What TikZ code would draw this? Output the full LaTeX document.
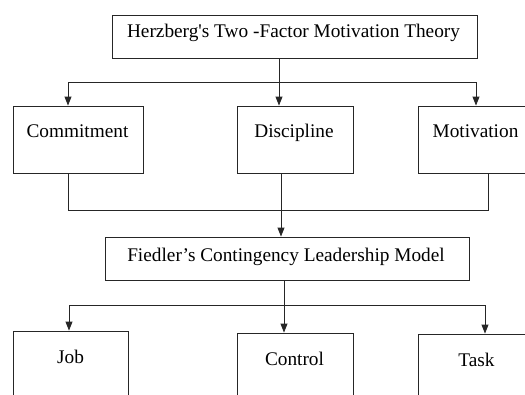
\documentclass[tikz,border=0pt]{standalone}
\usepackage{fontspec}
\setmainfont{Liberation Serif}[Ligatures=TeXOff]
\usetikzlibrary{arrows.meta}
\begin{document}
\begin{tikzpicture}[x=1pt,y=-1pt,
  box/.style={draw=black!85, line width=0.9pt, rectangle, inner sep=0pt},
  lbl/.style={anchor=base, inner sep=0pt, font=\fontsize{19.3}{22}\selectfont},
  conn/.style={draw=black!85, line width=0.9pt},
  arr/.style={conn, -{Triangle[width=7pt,length=9pt]}}]
\useasboundingbox (0,0) rectangle (525,394);
\clip (0,0) rectangle (525,394);
% boxes
\node[box, minimum width=365pt, minimum height=43pt] (top) at (294.5,36.5) {};
\node[box, minimum width=130pt, minimum height=67pt] (comm) at (78,139.5) {};
\node[box, minimum width=116pt, minimum height=67pt] (disc) at (295,139.5) {};
\node[box, minimum width=122pt, minimum height=67pt] (motv) at (479,139.5) {};
\node[box, minimum width=364pt, minimum height=43pt] (fied) at (287,258.5) {};
\node[box, minimum width=115pt, minimum height=89pt] (job) at (70.5,375.5) {};
\node[box, minimum width=116pt, minimum height=87pt] (ctrl) at (295,376.5) {};
\node[box, minimum width=122pt, minimum height=86pt] (task) at (479,377) {};
% labels
\node[lbl] (topt) at (293.5,37.3) {Herzberg's Two -Factor Motivation Theory};
\node[lbl] (commt) at (77.5,137) {Commitment};
\node[lbl] (disct) at (294,137) {Discipline};
\node[lbl] (motvt) at (475.5,137) {Motivation};
\node[lbl] (fiedt) at (286,261) {Fiedler’s Contingency Leadership Model};
\node[lbl] (jobt) at (70.5,363) {Job};
\node[lbl] (ctrlt) at (294.5,365) {Control};
\node[lbl] (taskt) at (476.5,366.5) {Task};
% connectors
\coordinate (h1) at (279,82);
\coordinate (h2) at (281,210);
\coordinate (h3) at (284,305);
\draw[arr] (top.south -| h1) -- (disc.north -| h1);
\draw[arr] (h1) -| ([xshift=-10pt]comm.north);
\draw[arr] (h1) -| ([xshift=-3pt]motv.north);
\draw[conn] ([xshift=-10pt]comm.south) |- (h2);
\draw[conn] ([xshift=9pt]motv.south) |- (h2);
\draw[arr] ([xshift=-14pt]disc.south) -- (fied.north -| h2);
\draw[arr] (fied.south -| h3) -- (ctrl.north -| h3);
\draw[arr] (h3) -| ([xshift=-1.5pt]job.north);
\draw[arr] (h3) -| ([xshift=6pt]task.north);
\end{tikzpicture}
\end{document}
